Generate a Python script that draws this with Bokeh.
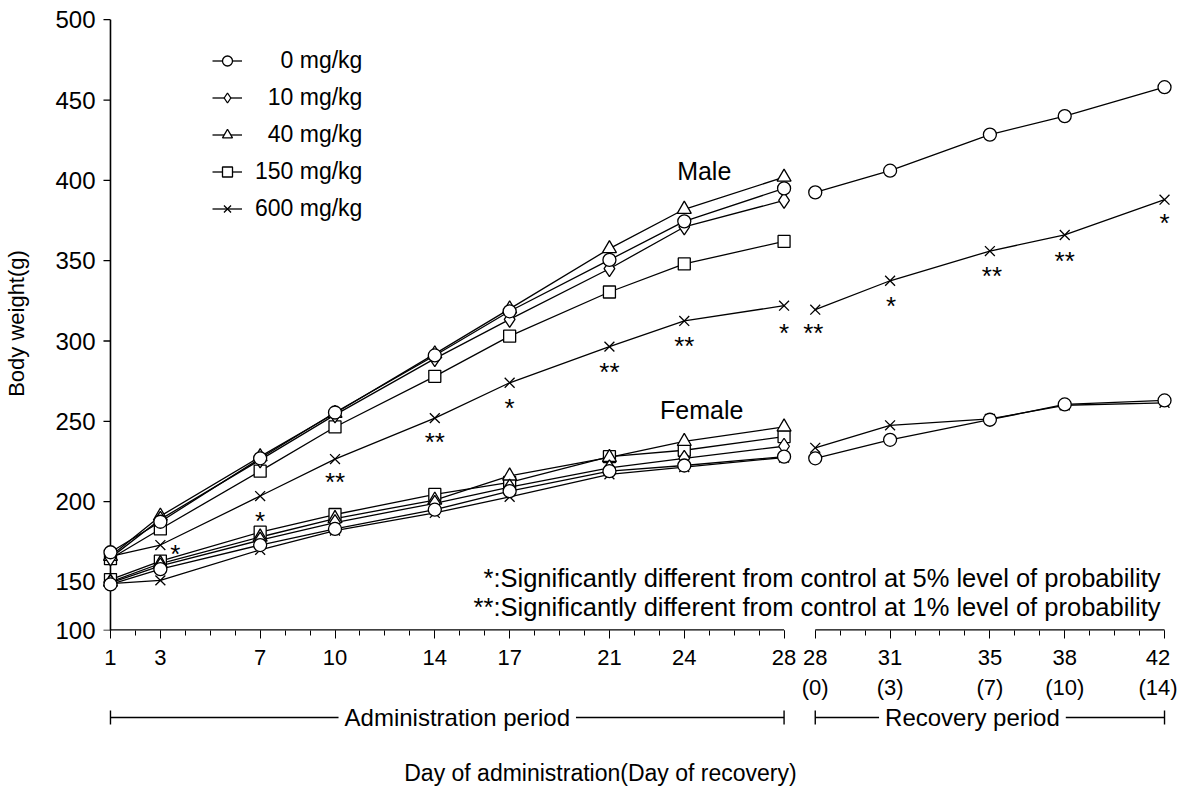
from bokeh.plotting import figure
from bokeh.models import Range1d, FixedTicker, Legend, LegendItem, ColumnDataSource
from bokeh.layouts import column
from bokeh.embed import file_html
from bokeh.resources import INLINE
from bokeh.core.properties import value

# ---------------- data ----------------
days_admin = [1, 3, 7, 10, 14, 17, 21, 24, 28]
days_recovery = [28, 31, 35, 38, 42]
recovery_day_labels = ["(0)", "(3)", "(7)", "(10)", "(14)"]
dose_labels = ["0 mg/kg", "10 mg/kg", "40 mg/kg", "150 mg/kg", "600 mg/kg"]
y_ticks = [150, 200, 250, 300, 350, 400, 450, 500]

male_0 = [168.5, 187.5, 227, 255.5, 291, 318.5, 350.5, 374.5, 395]
male_10 = [165, 189, 226, 254, 289, 313.5, 345, 371, 387.5]
male_40 = [166, 191, 228, 255, 292, 320, 357.5, 382, 402]
male_150 = [164.5, 183, 219, 246.5, 278, 303, 330.5, 348, 362]
male_600 = [166, 173, 203.5, 226.5, 252, 274, 296.5, 312.5, 322]

female_0 = [148.5, 158, 173, 183, 195, 206.5, 219, 222.5, 228]
female_10 = [149.5, 160, 176, 187, 199, 209, 221, 227, 234.5]
female_40 = [150, 161.5, 178, 189.5, 201, 216, 227.5, 237.5, 246.5]
female_150 = [151.5, 163, 181, 192, 204.5, 212, 228, 232, 240.5]
female_600 = [149, 151, 170, 182, 193, 203, 217, 221.5, 227.5]

male_0_rec = [392.5, 406, 428.5, 440, 458]
male_600_rec = [319.5, 337.5, 356, 366, 388]
female_0_rec = [227, 238.5, 251, 260.5, 263]
female_600_rec = [233.5, 247.5, 251.5, 260, 261.5]

sig_male_600 = ["", "*", "*", "**", "**", "*", "**", "**", "*"]
sig_male_600_rec = ["**", "*", "**", "**", "*"]

footnotes = ["*:Significantly different from control at 5% level of probability",
             "**:Significantly different from control at 1% level of probability"]

# ---------------- layout / style ----------------
REC_SHIFT = 1.25          # visual gap between the two periods (in day units)
Y_BOTTOM = 119.8          # bottom of the drawn axis (labelled "100" in the original)
FONT = "Liberation Sans"
x_rec = [d + REC_SHIFT for d in days_recovery]

markers = ["circle", "diamond", "triangle", "square", "x"]
msizes = [13, 16, 14, 12, 14]
LW = 1.3

W = 1177
BL, BR = 100, 3
X0, X1 = 0.6, 42.4 + REC_SHIFT
PX_PER_DAY = (W - BL - BR) / (X1 - X0)
Y1 = 502
p = figure(width=W, height=702, x_range=Range1d(X0, X1),
           y_range=Range1d(Y_BOTTOM, Y1), output_backend="svg",
           toolbar_location=None, min_border_left=BL, min_border_right=BR,
           min_border_top=16, min_border_bottom=66)
p.xgrid.visible = False
p.ygrid.visible = False
p.outline_line_color = None

# x axis
major_x = days_admin + x_rec
minor_x = list(range(1, 29)) + [d + REC_SHIFT for d in range(28, 43)]
p.xaxis.ticker = FixedTicker(ticks=major_x, minor_ticks=minor_x)
overrides = {d: str(d) for d in days_admin}
for d, xr, lab in zip(days_recovery, x_rec, recovery_day_labels):
    overrides[xr] = f"{d}\n{lab}"
p.xaxis.major_label_overrides = overrides
p.xaxis.axis_line_color = None
p.xaxis.major_tick_out = 8
p.xaxis.major_tick_in = 0
p.xaxis.minor_tick_out = 5
p.xaxis.minor_tick_in = 0
p.xaxis.major_tick_line_color = "black"
p.xaxis.minor_tick_line_color = "black"
p.xaxis.major_label_text_font_size = "22px"
p.xaxis.major_label_text_font = FONT
p.xaxis.major_label_text_color = "black"
p.xaxis.major_label_standoff = 6

# broken x axis line
p.segment(x0=[1, 28 + REC_SHIFT], y0=[Y_BOTTOM, Y_BOTTOM],
          x1=[28, 42 + REC_SHIFT], y1=[Y_BOTTOM, Y_BOTTOM],
          line_color="black", line_width=2.6)

# y axis: labels from Bokeh's axis, line + ticks drawn at day 1
p.yaxis.ticker = FixedTicker(ticks=[Y_BOTTOM] + y_ticks)
p.yaxis.major_label_overrides = {Y_BOTTOM: "100"}
p.yaxis.minor_tick_line_color = None
p.yaxis.major_tick_line_color = None
p.yaxis.major_tick_out = 0
p.yaxis.major_tick_in = 0
p.yaxis.axis_line_color = None
p.yaxis.major_label_text_font_size = "24px"
p.yaxis.major_label_text_font = FONT
p.yaxis.major_label_text_color = "black"
p.yaxis.major_label_standoff = 5
p.yaxis.axis_label = "Body weight(g)"
p.yaxis.axis_label_text_font = FONT
p.yaxis.axis_label_text_font_size = "22px"
p.yaxis.axis_label_text_font_style = "normal"
p.yaxis.axis_label_text_color = "black"
p.yaxis.axis_label_standoff = 23

tick_len = 7 / PX_PER_DAY
all_y_ticks = [Y_BOTTOM] + y_ticks
p.segment(x0=[1], y0=[Y_BOTTOM - 1], x1=[1], y1=[500], line_color="black", line_width=1.6)
p.segment(x0=[1 - tick_len] * len(all_y_ticks), y0=all_y_ticks,
          x1=[1] * len(all_y_ticks), y1=all_y_ticks, line_color="black", line_width=1.3)

male = [male_0, male_10, male_40, male_150, male_600]
female = [female_0, female_10, female_40, female_150, female_600]

legend_renderers = [[] for _ in male]
for i, (m, f) in enumerate(zip(male, female)):
    lr = p.line(days_admin, m, line_color="black", line_width=LW)
    p.line(days_admin, f, line_color="black", line_width=LW)
    legend_renderers[i].append(lr)
for ys in [male_0_rec, male_600_rec, female_0_rec, female_600_rec]:
    p.line(x_rec, ys, line_color="black", line_width=LW)

# markers: highest dose first so the control circles sit on top
for i in reversed(range(len(male))):
    kw = dict(marker=markers[i], size=msizes[i], fill_color="white",
              line_color="black", line_width=LW)
    p.scatter(days_admin, female[i], **kw)
    sr = p.scatter(days_admin, male[i], **kw)
    legend_renderers[i].append(sr)
for ys, i in [(female_600_rec, 4), (female_0_rec, 0), (male_600_rec, 4), (male_0_rec, 0)]:
    p.scatter(x_rec, ys, marker=markers[i], size=msizes[i], fill_color="white",
              line_color="black", line_width=LW)

# significance marks (pixel offsets from the 600 mg/kg male markers)
STAR_FS = 26
star_dx = [0, 15, 0, 0, 0, 0, 0, 0, 0] + [-2, 1, 2, 0, 0]
star_dy = [0, 3, 19, 17, 18, 19, 19, 19, 21] + [17, 19, 19, 20, 17]
star_src = ColumnDataSource(dict(
    x=days_admin + x_rec,
    y=male_600 + male_600_rec,
    t=sig_male_600 + sig_male_600_rec,
    dx=star_dx,
    dy=[d + 6 for d in star_dy],
))
p.text(x="x", y="y", text="t", x_offset="dx", y_offset="dy", source=star_src,
       text_align="center", text_baseline="alphabetic",
       text_font=value(FONT), text_font_size=f"{STAR_FS}px", text_color="black")

# group labels
p.text(x=[24.8, 24.7], y=[405.7, 257.2], text=["Male", "Female"],
       text_align="center", text_baseline="middle", text_font=value(FONT),
       text_font_size="25px", text_color="black")

# footnotes
p.text(x=[42 + REC_SHIFT] * 2, y=[152.5, 134.6], text=footnotes, x_offset=-4,
       text_align="right", text_baseline="middle", text_font=value(FONT),
       text_font_size="25.5px", text_color="black")

# legend
items = [LegendItem(label=lab.rjust(9, "\u2007"), renderers=r)
         for lab, r in zip(dose_labels, legend_renderers)]
legend = Legend(items=items, location=(112, 408), margin=0, padding=0,
                glyph_width=30, glyph_height=25, label_height=25, spacing=10,
                label_standoff=13, label_text_font=FONT,
                label_text_font_size="23px", label_text_color="black",
                border_line_color=None, background_fill_alpha=0)
p.add_layout(legend)

# ---------------- period brackets + axis title ----------------
H2 = 85
p2 = figure(width=W, height=H2, x_range=p.x_range, y_range=Range1d(H2, 0),
            output_backend="svg", toolbar_location=None,
            min_border_left=BL, min_border_right=BR, min_border_top=0,
            min_border_bottom=0)
p2.xgrid.visible = False
p2.ygrid.visible = False
p2.outline_line_color = None
p2.xaxis.visible = False
p2.yaxis.visible = False

periods = [(1, 28, "Administration period", 14.9),
           (28 + REC_SHIFT, 42 + REC_SHIFT, "Recovery period", 35.55)]
for x0, x1, lab, xc in periods:
    p2.segment(x0=[x0], y0=[15], x1=[x1], y1=[15], line_color="black", line_width=1.4)
    p2.segment(x0=[x0, x1], y0=[8, 8], x1=[x0, x1], y1=[22, 22],
               line_color="black", line_width=1.4)
    p2.text(x=[xc], y=[15], text=[lab], text_align="center", text_baseline="middle",
            text_font=value(FONT), text_font_size="24px", text_color="black",
            background_fill_color="white", padding=6)

p2.text(x=[20.64], y=[70], text=["Day of administration(Day of recovery)"],
        text_align="center", text_baseline="middle", text_font=value(FONT),
        text_font_size="23px", text_color="black")

layout = column(p, p2)
open("out.html", "w").write(file_html(layout, INLINE))
